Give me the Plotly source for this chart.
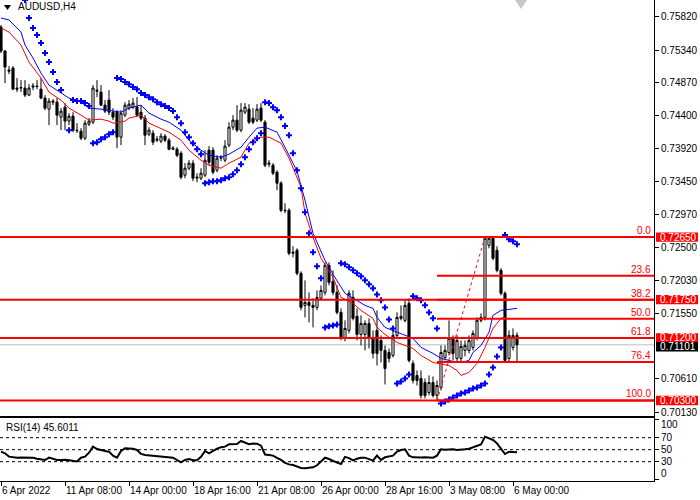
import plotly.graph_objects as go

# AUDUSD H4 bars, index 0..129
bars = list(range(130))

opens = [
    0.75671, 0.75326, 0.75052, 0.75081, 0.74793, 0.74793, 0.74793, 0.74692, 0.74807, 0.74822,
    0.74778, 0.74649, 0.74490, 0.74606, 0.74591, 0.74375, 0.74519, 0.74318, 0.74390, 0.74188,
    0.74174, 0.74073, 0.74274, 0.74303, 0.74764, 0.74735, 0.74548, 0.74620, 0.74447, 0.74447,
    0.74087, 0.74404, 0.74505, 0.74519, 0.74519, 0.74447, 0.74361, 0.74130, 0.74145, 0.74044,
    0.74030, 0.74102, 0.74044, 0.73914, 0.73914, 0.73857, 0.73540, 0.73641, 0.73713, 0.73497,
    0.73497, 0.73540, 0.73900, 0.73900, 0.73612, 0.73785, 0.73756, 0.73972, 0.74231, 0.74332,
    0.74188, 0.74447, 0.74490, 0.74361, 0.74332, 0.74505, 0.74303, 0.73698, 0.73684, 0.73583,
    0.73425, 0.73036, 0.73036, 0.72417, 0.72460, 0.72129, 0.71668, 0.71711, 0.71668, 0.71639,
    0.71769, 0.71855, 0.72244, 0.72014, 0.71855, 0.71567, 0.71193, 0.71308, 0.71783, 0.71510,
    0.71250, 0.71250, 0.71409, 0.71207, 0.71308, 0.71164, 0.71020, 0.70991, 0.70948, 0.71236,
    0.71481, 0.71452, 0.71697, 0.70833, 0.70660, 0.70617, 0.70559, 0.70415, 0.70559, 0.70372,
    0.70487, 0.70919, 0.70991, 0.71193, 0.70905, 0.70905, 0.71020, 0.71020, 0.71063, 0.71193,
    0.71452, 0.71495, 0.72532, 0.72633, 0.72460, 0.72172, 0.71841, 0.70905, 0.71063, 0.71236,
]
highs = [
    0.75700, 0.75340, 0.75110, 0.75110, 0.74937, 0.74908, 0.74908, 0.74850, 0.74865, 0.74908,
    0.74937, 0.74692, 0.74649, 0.74634, 0.74649, 0.74505, 0.74577, 0.74433, 0.74447, 0.74289,
    0.74217, 0.74332, 0.74361, 0.74836, 0.74908, 0.74836, 0.74620, 0.74764, 0.74505, 0.74476,
    0.74476, 0.74591, 0.74620, 0.74649, 0.74663, 0.74548, 0.74404, 0.74231, 0.74188, 0.74102,
    0.74145, 0.74130, 0.74073, 0.73958, 0.73943, 0.73886, 0.73713, 0.73756, 0.73756, 0.73569,
    0.73641, 0.73900, 0.73958, 0.73943, 0.73828, 0.73828, 0.74044, 0.74303, 0.74404, 0.74548,
    0.74577, 0.74577, 0.74562, 0.74505, 0.74562, 0.74577, 0.74332, 0.73756, 0.73713, 0.73612,
    0.73454, 0.73137, 0.73065, 0.72518, 0.72489, 0.72158, 0.72028, 0.71855, 0.71769, 0.71884,
    0.71956, 0.72287, 0.72287, 0.72172, 0.71956, 0.71625, 0.71452, 0.71884, 0.71884, 0.71625,
    0.71524, 0.71452, 0.71481, 0.71308, 0.71596, 0.71236, 0.71092, 0.71049, 0.71308, 0.71567,
    0.71668, 0.71740, 0.71769, 0.70876, 0.70732, 0.70732, 0.70617, 0.70660, 0.70646, 0.70588,
    0.71092, 0.71092, 0.71452, 0.71236, 0.71236, 0.71164, 0.71164, 0.71236, 0.71308, 0.71495,
    0.71553, 0.72650, 0.72650, 0.72650, 0.72518, 0.72201, 0.71870, 0.71308, 0.71337, 0.71279,
]
lows = [
    0.75297, 0.74865, 0.74994, 0.74764, 0.74735, 0.74735, 0.74663, 0.74678, 0.74764, 0.74778,
    0.74634, 0.74476, 0.74260, 0.74548, 0.74260, 0.74188, 0.74188, 0.74260, 0.74159, 0.74145,
    0.74044, 0.74044, 0.74246, 0.74274, 0.74663, 0.74534, 0.74433, 0.74404, 0.74332, 0.73929,
    0.73972, 0.74375, 0.74476, 0.74490, 0.74375, 0.74332, 0.73972, 0.74102, 0.73972, 0.74015,
    0.74001, 0.74015, 0.73900, 0.73900, 0.73799, 0.73482, 0.73497, 0.73612, 0.73454, 0.73439,
    0.73468, 0.73511, 0.73684, 0.73554, 0.73583, 0.73742, 0.73727, 0.73943, 0.74188, 0.74159,
    0.74159, 0.74418, 0.74274, 0.74274, 0.74303, 0.74303, 0.73655, 0.73655, 0.73540, 0.73324,
    0.73007, 0.72993, 0.72388, 0.72359, 0.72100, 0.71596, 0.71495, 0.71423, 0.71351, 0.71596,
    0.71740, 0.71812, 0.71956, 0.71812, 0.71538, 0.71164, 0.71150, 0.71265, 0.71452, 0.71164,
    0.71092, 0.71020, 0.71049, 0.70905, 0.70804, 0.70847, 0.70530, 0.70847, 0.70919, 0.71193,
    0.71452, 0.71423, 0.70847, 0.70545, 0.70516, 0.70329, 0.70329, 0.70372, 0.70343, 0.70300,
    0.70444, 0.70876, 0.70948, 0.70876, 0.70847, 0.70847, 0.70934, 0.70977, 0.71020, 0.71164,
    0.71423, 0.71452, 0.72489, 0.72316, 0.72143, 0.71812, 0.70847, 0.70847, 0.71020, 0.70847,
]
closes = [
    0.75326, 0.75095, 0.75038, 0.74778, 0.74778, 0.74800, 0.74692, 0.74793, 0.74822, 0.74815,
    0.74649, 0.74505, 0.74606, 0.74591, 0.74404, 0.74462, 0.74318, 0.74390, 0.74188, 0.74182,
    0.74073, 0.74289, 0.74318, 0.74793, 0.74750, 0.74548, 0.74462, 0.74447, 0.74375, 0.74087,
    0.74433, 0.74548, 0.74562, 0.74577, 0.74404, 0.74361, 0.74116, 0.74188, 0.74015, 0.74058,
    0.74102, 0.74044, 0.73914, 0.73929, 0.73828, 0.73511, 0.73641, 0.73713, 0.73497, 0.73511,
    0.73569, 0.73756, 0.73727, 0.73583, 0.73785, 0.73799, 0.73958, 0.74231, 0.74332, 0.74188,
    0.74476, 0.74519, 0.74303, 0.74303, 0.74490, 0.74332, 0.73684, 0.73713, 0.73569, 0.73425,
    0.73036, 0.73030, 0.72417, 0.72431, 0.72129, 0.71639, 0.71711, 0.71668, 0.71639, 0.71783,
    0.71884, 0.72244, 0.71999, 0.71855, 0.71567, 0.71193, 0.71337, 0.71841, 0.71481, 0.71250,
    0.71409, 0.71409, 0.71193, 0.70977, 0.70977, 0.71020, 0.70761, 0.70905, 0.71236, 0.71495,
    0.71510, 0.71668, 0.70876, 0.70588, 0.70588, 0.70372, 0.70372, 0.70559, 0.70372, 0.70516,
    0.70991, 0.71020, 0.71193, 0.70977, 0.71164, 0.71078, 0.71092, 0.71164, 0.71265, 0.71452,
    0.71495, 0.72633, 0.72633, 0.72345, 0.72172, 0.71841, 0.70876, 0.71236, 0.71236, 0.71101,
]

# parabolic SAR dots (None = off screen / not visible)
sar = [
    None, None, None, None, None, None, 0.76060, 0.75801, 0.75657, 0.75556,
    0.75441, 0.75297, 0.75167, 0.75023, 0.74879, 0.74764, None, 0.74188, 0.74620, 0.74606,
    0.74606, 0.74577, 0.74534, 0.74001, 0.74015, 0.74058, 0.74087, 0.74130, 0.74159, 0.74937,
    0.74922, 0.74879, 0.74850, 0.74807, 0.74778, 0.74721, 0.74692, 0.74663, 0.74634, 0.74591,
    0.74562, 0.74534, 0.74505, 0.74462, 0.74375, 0.74289, 0.74159, 0.74087, 0.74001, 0.73914,
    0.73842, 0.73425, 0.73439, 0.73454, 0.73454, 0.73468, 0.73497, 0.73511, 0.73554, 0.73612,
    0.73698, 0.73799, 0.73914, 0.74015, 0.74073, 0.74145, 0.74591, 0.74577, 0.74519, 0.74476,
    0.74375, 0.74246, 0.74116, 0.73857, 0.73612, 0.73353, 0.73007, 0.72705, 0.72431, 0.72230,
    0.72057, 0.71351, 0.71366, 0.71380, 0.71394, 0.72273, 0.72258, 0.72215, 0.72172, 0.72129,
    0.72086, 0.72028, 0.71970, 0.71913, 0.71826, 0.71740, 0.71639, 0.71466, 0.71337, 0.70545,
    0.70574, 0.70617, 0.70674, 0.71798, 0.71769, 0.71740, 0.71668, 0.71567, 0.71481, 0.71337,
    0.70257, 0.70286, 0.70314, 0.70343, 0.70372, 0.70401, 0.70415, 0.70444, 0.70473, 0.70487,
    0.70516, 0.70545, 0.70674, 0.70775, 0.70934, 0.71063, 0.72680, 0.72618, 0.72590, 0.72546,
]

# moving averages, sampled along the lines
ma_blue_bar = [0, 2, 5, 6, 8, 10, 12, 15, 17, 20, 22, 25, 27, 30, 32, 35, 37, 40, 42, 45,
               47, 50, 52, 55, 57, 60, 62, 64, 66, 69, 71, 74, 76, 78, 81, 83, 86, 88, 91, 93,
               94, 96, 99, 103, 105, 108, 110, 113, 115, 117, 118, 120, 122, 123, 125, 128, 129]
ma_blue = [0.75801, 0.75772, 0.75599, 0.75412, 0.75225, 0.75009, 0.74836, 0.74721, 0.74649, 0.74591,
           0.74505, 0.74490, 0.74476, 0.74447, 0.74505, 0.74548, 0.74433, 0.74346, 0.74303, 0.74188,
           0.74044, 0.73900, 0.73828, 0.73799, 0.73842, 0.73943, 0.74087, 0.74217, 0.74231, 0.74159,
           0.73943, 0.73598, 0.73180, 0.72705, 0.72316, 0.72114, 0.71841, 0.71769, 0.71668, 0.71625,
           0.71495, 0.71351, 0.71279, 0.71193, 0.71063, 0.70977, 0.70905, 0.70862, 0.70847, 0.70876,
           0.70991, 0.71092, 0.71279, 0.71524, 0.71596, 0.71625, 0.71625]
ma_red_bar = [0, 2, 5, 7, 10, 12, 15, 17, 20, 22, 25, 27, 28, 31, 32, 35, 37, 40, 42, 45,
              47, 50, 52, 55, 57, 60, 62, 65, 67, 70, 72, 75, 76, 78, 80, 83, 85, 88, 90, 93,
              94, 96, 99, 103, 105, 108, 112, 114, 115, 117, 119, 121, 123, 125, 126]
ma_red = [0.75657, 0.75599, 0.75412, 0.75167, 0.74937, 0.74735, 0.74620, 0.74505, 0.74404, 0.74332,
          0.74346, 0.74318, 0.74289, 0.74318, 0.74361, 0.74404, 0.74289, 0.74217, 0.74159, 0.74044,
          0.73900, 0.73756, 0.73684, 0.73641, 0.73713, 0.73799, 0.74001, 0.74087, 0.74087, 0.74001,
          0.73785, 0.73367, 0.72993, 0.72647, 0.72345, 0.72071, 0.71783, 0.71697, 0.71596, 0.71481,
          0.71351, 0.71250, 0.71135, 0.71049, 0.70948, 0.70847, 0.70804, 0.70732, 0.70660, 0.70703,
          0.70833, 0.71063, 0.71337, 0.71481, 0.71495]

rsi = [
    46.7, 43.9, 38.4, 37.0, 36.7, 37.0, 37.3, 37.3, 36.7, 35.0,
    34.0, 32.8, 36.7, 34.5, 32.8, 33.0, 33.4, 32.5, 32.0, 30.5,
    36.7, 38.4, 45.0, 55.0, 51.0, 49.0, 47.8, 46.7, 40.0, 36.7,
    47.8, 52.3, 52.0, 51.7, 49.5, 43.0, 41.0, 40.5, 39.5, 39.0,
    38.4, 38.4, 37.5, 36.7, 32.8, 28.9, 32.8, 34.5, 32.3, 32.3,
    38.0, 47.8, 44.0, 47.8, 51.7, 54.0, 55.1, 58.9, 58.9, 59.5,
    64.5, 62.3, 59.0, 60.1, 60.0, 56.7, 42.0, 41.2, 40.1, 36.5,
    33.0, 28.0, 25.5, 24.5, 21.5, 19.5, 19.0, 19.7, 20.6, 24.0,
    30.0, 36.7, 34.5, 31.2, 28.4, 26.2, 38.0, 36.0, 32.0, 35.0,
    36.7, 36.7, 34.5, 31.7, 40.1, 33.0, 37.3, 38.4, 40.1, 46.7,
    49.5, 50.6, 40.1, 37.3, 36.7, 37.0, 37.3, 37.0, 36.7, 40.1,
    50.6, 50.0, 50.3, 50.6, 49.5, 49.5, 50.6, 51.5, 54.0, 56.7,
    58.9, 71.7, 68.9, 66.2, 60.6, 52.0, 42.8, 46.7, 46.7, 45.6011,
]

time_tick_bars = [0, 16, 32, 48, 64, 80, 96, 112, 128]
time_tick_labels = ["6 Apr 2022", "11 Apr 08:00", "14 Apr 00:00", "18 Apr 16:00", "21 Apr 08:00",
                    "26 Apr 00:00", "28 Apr 16:00", "3 May 08:00", "6 May 00:00"]
price_ticks = [0.75820, 0.75340, 0.74870, 0.74400, 0.73920, 0.73450, 0.72970,
               0.72500, 0.72030, 0.71550, 0.70610, 0.70130]
rsi_ticks = [100, 70, 50, 30, 0]
rsi_levels = [70, 50, 30]

level_prices = [0.72650, 0.71750, 0.71200, 0.70300]       # horizontal lines
fib_prices = [0.72650, 0.72095, 0.71750, 0.71475, 0.71200, 0.70855, 0.70300]
fib_labels = ["0.0", "23.6", "38.2", "50.0", "61.8", "76.4", "100.0"]
fib_low_bar, fib_high_bar = 109, 121
bid_price = 0.71101

FONT = "Liberation Sans"
XR = [-0.25, 163.25]
PX = 0.000144          # price per screen pixel on the main panel
PLOT_W, PLOT_H = 654, 481

fig = go.Figure()

fig.add_trace(go.Candlestick(
    x=bars, open=opens, high=highs, low=lows, close=closes,
    increasing=dict(fillcolor="white", line=dict(color="black", width=1)),
    decreasing=dict(fillcolor="black", line=dict(color="black", width=1)),
    whiskerwidth=0, hoverinfo="skip", xaxis="x", yaxis="y"))

fig.add_trace(go.Scatter(x=ma_blue_bar, y=ma_blue, mode="lines",
                         line=dict(color="#0000ff", width=1), xaxis="x", yaxis="y"))
fig.add_trace(go.Scatter(x=ma_red_bar, y=ma_red, mode="lines",
                         line=dict(color="#ff0000", width=1), xaxis="x", yaxis="y"))
fig.add_trace(go.Scatter(x=bars, y=sar, mode="markers",
                         marker=dict(symbol="cross", size=5, color="#0000ff", line=dict(width=0)),
                         xaxis="x", yaxis="y"))
# fibo trend line (dashed) from the low to the high
fig.add_trace(go.Scatter(x=[fib_low_bar, fib_high_bar], y=[fib_prices[-1], fib_prices[0]],
                         mode="lines", line=dict(color="#ff0000", width=1, dash="3px,3px"),
                         xaxis="x", yaxis="y"))

fig.add_trace(go.Scatter(x=bars, y=rsi, mode="lines", line=dict(color="black", width=2),
                         xaxis="x2", yaxis="y2"))

shapes = []
# bid line
shapes.append(dict(type="line", xref="paper", yref="y", x0=0, x1=1, y0=bid_price, y1=bid_price,
                   line=dict(color="#c0c0c0", width=1), layer="below"))
for p in level_prices:
    shapes.append(dict(type="line", xref="paper", yref="y", x0=0, x1=1, y0=p, y1=p,
                       line=dict(color="#ff0000", width=2), layer="above"))
for p in fib_prices:
    shapes.append(dict(type="line", xref="x", yref="y", x0=fib_low_bar, x1=XR[1], y0=p, y1=p,
                       line=dict(color="#ff0000", width=2), layer="above"))
for v in rsi_levels:
    shapes.append(dict(type="line", xref="paper", yref="y2", x0=0, x1=1, y0=v, y1=v,
                       line=dict(color="black", width=1, dash="3px,3px"), layer="below"))

# price boxes on the right scale (bid box sits a little below its price, like MT4)
annotations = []
boxes = [(level_prices[0], "#ff0000", 0), (level_prices[1], "#ff0000", 0),
         (level_prices[2], "#ff0000", 0), (bid_price, "black", 2), (level_prices[3], "#ff0000", 0)]
for p, col, dn in boxes:
    c = p - dn * PX
    shapes.append(dict(type="rect", xref="paper", yref="y", x0=656 / PLOT_W, x1=698 / PLOT_W,
                       y0=c - 4.7 * PX, y1=c + 4.7 * PX, fillcolor=col, line=dict(width=0),
                       layer="above"))
    annotations.append(dict(x=658 / PLOT_W, y=c, xref="paper", yref="y", xanchor="left",
                            yanchor="middle", text=f"{p:.5f}", showarrow=False,
                            font=dict(family=FONT, size=10, color="white")))

for p, lab in zip(fib_prices, fib_labels):
    annotations.append(dict(x=1, y=p, xref="paper", yref="y", xanchor="right", yanchor="bottom",
                            xshift=-1, yshift=-1, text=lab, showarrow=False,
                            font=dict(family=FONT, size=10, color="#ff0000")))

# edge labels of the RSI scale are pulled inside the window, as MT4 does
for lab, py in [("100", 424), ("0", 473)]:
    annotations.append(dict(x=659 / PLOT_W, y=1 - py / PLOT_H, xref="paper", yref="paper",
                            xanchor="left", yanchor="middle", text=lab, showarrow=False,
                            font=dict(family=FONT, size=10, color="black")))

annotations.append(dict(x=16 / PLOT_W, y=1, xref="paper", yref="paper", xanchor="left",
                        yanchor="top", yshift=1, text="AUDUSD,H4", showarrow=False,
                        font=dict(family=FONT, size=10, color="black")))
annotations.append(dict(x=4 / PLOT_W, y=0.131, xref="paper", yref="paper", xanchor="left",
                        yanchor="top", yshift=-2, text=f"RSI(14) {rsi[-1]:.4f}", showarrow=False,
                        font=dict(family=FONT, size=10, color="black")))

# small triangles (menu marker and chart shift marker)
shapes.append(dict(type="path", xref="paper", yref="paper",
                   path=f"M {4/PLOT_W},{1-5/PLOT_H} L {11/PLOT_W},{1-5/PLOT_H} "
                        f"L {7.5/PLOT_W},{1-10/PLOT_H} Z",
                   fillcolor="black", line=dict(width=0)))
shapes.append(dict(type="path", xref="paper", yref="paper",
                   path=f"M {515/PLOT_W},1 L {527/PLOT_W},1 L {521/PLOT_W},{1-9/PLOT_H} Z",
                   fillcolor="#c8c8c8", line=dict(width=0)))

main_bottom = 1 - 415.5 / PLOT_H
rsi_top = 63 / PLOT_H

fig.update_layout(
    width=700, height=500,
    margin=dict(l=0, r=46, t=0, b=19),
    paper_bgcolor="white", plot_bgcolor="white",
    showlegend=False,
    font=dict(family=FONT, size=10, color="black"),
    xaxis=dict(domain=[0, 1], range=XR, anchor="y", showticklabels=False, ticks="",
               showgrid=False, zeroline=False, showline=True, linecolor="black", linewidth=1,
               rangeslider=dict(visible=False)),
    yaxis=dict(domain=[main_bottom, 1], range=[0.70084, 0.76060], anchor="x", side="right",
               tickvals=price_ticks, ticktext=[f"{v:.5f}" for v in price_ticks],
               ticks="outside", ticklen=4, tickcolor="black", showgrid=False, zeroline=False,
               showline=True, linecolor="black", linewidth=1,
               tickfont=dict(family=FONT, size=10, color="black")),
    xaxis2=dict(domain=[0, 1], range=XR, anchor="y2", tickvals=time_tick_bars,
                ticktext=time_tick_labels, ticks="outside", ticklen=4, tickcolor="black",
                ticklabelposition="outside right", tickangle=0, showgrid=False, zeroline=False,
                showline=True, mirror=True, linecolor="black", linewidth=1,
                tickfont=dict(family=FONT, size=10, color="black")),
    yaxis2=dict(domain=[0, rsi_top], range=[-2.2, 102.8], anchor="x2", side="right",
                tickvals=rsi_ticks, ticktext=["", "70", "50", "30", ""],
                ticks="outside", ticklen=4, tickcolor="black",
                showgrid=False, zeroline=False, showline=True, linecolor="black", linewidth=1,
                tickfont=dict(family=FONT, size=10, color="black")),
    boxgap=0.25,
    shapes=shapes,
    annotations=annotations,
)

# page has a default 8px body margin; drop it so the 700x500 figure fills the window
fig.write_html("out.html", config={"displayModeBar": False},
               post_script="document.body.style.margin='0';")
